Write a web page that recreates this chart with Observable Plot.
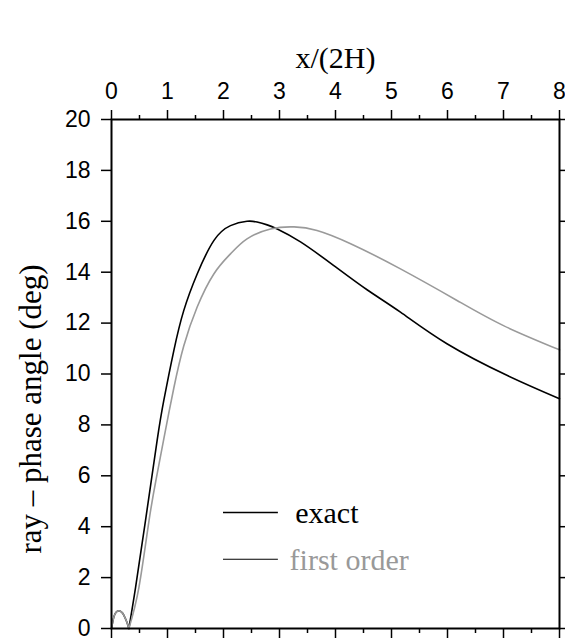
<!DOCTYPE html>
<html>
<head>
<meta charset="utf-8">
<script src="https://cdn.jsdelivr.net/npm/d3@7"></script>
<script src="https://cdn.jsdelivr.net/npm/@observablehq/plot@0.6"></script>
<style>
  html, body { margin: 0; padding: 0; background: #fff; }
  #chart svg { display: block; }
</style>
</head>
<body>
<div id="chart"></div>
<script>
// ---- data ----
const humpX = [0, 0.03, 0.06, 0.1, 0.15, 0.2, 0.24, 0.28, 0.31];
const humpY = [0, 0.35, 0.56, 0.67, 0.69, 0.6, 0.43, 0.22, 0];

const exactX = [0.31, 0.43, 0.607, 0.815, 0.934, 1.113, 1.29, 1.53, 1.83, 2.125, 2.42, 2.6, 2.78, 2.96, 3.375, 3.97, 4.57, 5.16, 5.99, 7.07, 8.0];
const exactY = [0, 1.62, 4.24, 7.39, 8.96, 10.92, 12.49, 13.93, 15.25, 15.83, 16.0, 15.97, 15.86, 15.7, 15.19, 14.26, 13.3, 12.43, 11.19, 9.94, 9.03];

const firstX = [0.31, 0.49, 0.67, 0.8, 0.934, 1.113, 1.29, 1.53, 1.83, 2.125, 2.42, 2.84, 3.26, 3.67, 4.27, 5.16, 6.17, 7.0, 8.0];
const firstY = [0, 1.62, 4.24, 5.9, 7.45, 9.45, 11.1, 12.63, 13.94, 14.72, 15.31, 15.7, 15.78, 15.64, 15.12, 14.13, 12.89, 11.9, 10.95];

const xMajor = [0, 1, 2, 3, 4, 5, 6, 7, 8];
const xMinor = [0.5, 1.5, 2.5, 3.5, 4.5, 5.5, 6.5, 7.5];
const yTicks = [0, 2, 4, 6, 8, 10, 12, 14, 16, 18, 20];

const legendItems = [
  {label: "exact", color: "#000", lineWidth: 1.6, y: 4.56, x1: 2.0, x2: 2.98, tx: 3.28},
  {label: "first order", color: "#999", lineWidth: 1.1, y: 2.72, x1: 2.0, x2: 2.98, tx: 3.18}
];

const toPts = (xs, ys) => xs.map((x, i) => ({x, y: ys[i]}));
const hump = toPts(humpX, humpY);
const exact = toPts(exactX, exactY);
const first = toPts(firstX, firstY);

const sans = "'Liberation Sans', Arial, Helvetica, sans-serif";
const serif = "'Liberation Serif', 'Times New Roman', Times, serif";

const chart = Plot.plot({
  width: 565,
  height: 642,
  marginLeft: 111,
  marginRight: 6,
  marginTop: 119,
  marginBottom: 14,
  style: {fontFamily: sans, background: "#fff", color: "#000"},
  x: {domain: [0, 8]},
  y: {domain: [0, 20]},
  marks: [
    // curves
    Plot.line(hump, {x: "x", y: "y", stroke: "#000", strokeWidth: 1.6, curve: "natural"}),
    Plot.line(exact, {x: "x", y: "y", stroke: "#000", strokeWidth: 1.6, curve: "natural"}),
    Plot.line(hump, {x: "x", y: "y", stroke: "#9a9a9a", strokeWidth: 1.6, curve: "natural"}),
    Plot.line(first, {x: "x", y: "y", stroke: "#9a9a9a", strokeWidth: 1.6, curve: "natural"}),
    // axes: top
    Plot.axisX({anchor: "top", ticks: xMajor, tickSize: 10, tickPadding: 11, fontSize: 23, strokeWidth: 1.5, label: null, tickFormat: d3.format("d")}),
    Plot.axisX({anchor: "top", ticks: xMinor, tickSize: 5, strokeWidth: 1.5, label: null, tickFormat: () => ""}),
    // bottom
    Plot.axisX({anchor: "bottom", ticks: xMajor, tickSize: 10, strokeWidth: 1.5, label: null, tickFormat: () => ""}),
    Plot.axisX({anchor: "bottom", ticks: xMinor, tickSize: 5, strokeWidth: 1.5, label: null, tickFormat: () => ""}),
    // left
    Plot.axisY({anchor: "left", ticks: yTicks, tickSize: 10, tickPadding: 11, fontSize: 23, strokeWidth: 1.5, label: null, tickFormat: d3.format("d")}),
    // right
    Plot.axisY({anchor: "right", ticks: yTicks, tickSize: 6, strokeWidth: 1.5, label: null, tickFormat: () => ""}),
    Plot.frame({stroke: "#000", strokeWidth: 2}),
    // axis titles
    Plot.text(["x/(2H)"], {frameAnchor: "top", dy: -52, lineAnchor: "bottom", textAnchor: "middle", fontSize: 30, fontFamily: serif, fill: "#000"}),
    Plot.text(["ray – phase angle (deg)"], {frameAnchor: "left", dx: -80, dy: 35, rotate: -90, lineAnchor: "middle", textAnchor: "middle", fontSize: 31, fontFamily: serif, fill: "#000"}),
    // legend
    Plot.ruleY(legendItems, {y: "y", x1: "x1", x2: "x2", stroke: "#000", strokeWidth: "lineWidth"}),
    Plot.text(legendItems, {x: "tx", y: "y", text: "label", fill: "color", textAnchor: "start", lineAnchor: "middle", fontSize: 30, fontFamily: serif, dy: 1})
  ]
});
document.getElementById("chart").appendChild(chart);
</script>
</body>
</html>
